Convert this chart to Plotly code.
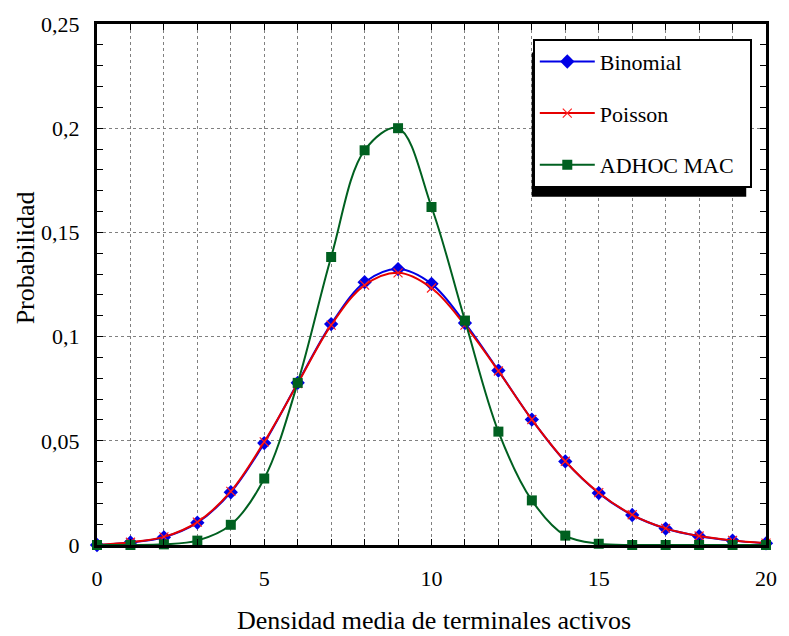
import plotly.graph_objects as go

x_vals = list(range(0, 21))
binomial = [0.0, 0.0012, 0.0037, 0.0107, 0.0253, 0.0489, 0.0778, 0.1060, 0.1261, 0.1324,
            0.1253, 0.1065, 0.0837, 0.0602, 0.0401, 0.0249, 0.0144, 0.0079, 0.0042, 0.0021, 0.0008]
poisson = [0.0, 0.0013, 0.0039, 0.0110, 0.0257, 0.0495, 0.0775, 0.1055, 0.1247, 0.1306,
           0.1233, 0.1055, 0.0835, 0.0602, 0.0402, 0.0251, 0.0145, 0.0080, 0.0043, 0.0022, 0.0009]
adhoc = [0.0, 0.0, 0.0003, 0.0021, 0.0097, 0.0319, 0.0778, 0.1382, 0.1894, 0.2000,
         0.1622, 0.1077, 0.0544, 0.0214, 0.0045, 0.0006, 0.0, 0.0, 0.0, 0.0, 0.0]

x_ticks = [0, 5, 10, 15, 20]
y_ticks = [0, 0.05, 0.1, 0.15, 0.2, 0.25]

FONT = "Liberation Serif, Times New Roman, serif"
GRID = "#808080"

# plot area in pixels (for legend/shadow placement)
L, R, T, B = 97, 774, 14, 545
W, H = R - L, B - T
def px(xp): return (xp - L) / W
def py(yp): return (B - yp) / H

fig = go.Figure()
fig.add_trace(go.Scatter(
    x=x_vals, y=binomial, name="Binomial", mode="lines+markers",
    line=dict(color="#0000e6", width=2, shape="spline", smoothing=1.0),
    marker=dict(symbol="diamond", size=11, color="#0000e6"),
    cliponaxis=False, legendgroup="a"))
fig.add_trace(go.Scatter(
    x=x_vals, y=poisson, name="Poisson", mode="lines+markers",
    line=dict(color="#e60000", width=2, shape="spline", smoothing=1.0),
    marker=dict(symbol="x-thin", size=9, color="#ff2020", line=dict(width=1.2, color="#ff2020")),
    cliponaxis=False, legendgroup="b"))
fig.add_trace(go.Scatter(
    x=x_vals, y=adhoc, name="ADHOC MAC\u00a0\u00a0", mode="lines+markers",
    line=dict(color="#006020", width=2, shape="spline", smoothing=1.0),
    marker=dict(symbol="square", size=10, color="#006020"),
    cliponaxis=False, legendgroup="c"))

fig.update_layout(
    width=789, height=636,
    margin=dict(l=L, r=789 - R, t=T, b=636 - B),
    paper_bgcolor="white", plot_bgcolor="white",
    separators=",.",
    font=dict(family=FONT, size=22, color="black"),
    showlegend=True,
    legend=dict(
        x=px(538), y=py(38) + 0.017, xanchor="left", yanchor="top",
        bgcolor="white", bordercolor="black", borderwidth=2,
        font=dict(family=FONT, size=22, color="black"),
        tracegroupgap=20, traceorder="grouped", itemwidth=55,
    ),
    xaxis=dict(
        range=[0, 20], tickmode="array", tickvals=x_ticks,
        showline=True, linewidth=3, linecolor="black", mirror="allticks",
        ticks="inside", ticklen=6, tickwidth=1, tickcolor="black",
        showgrid=True, gridcolor=GRID, gridwidth=1, griddash="3px,3px",
        zeroline=False, ticklabelstandoff=12,
        tickfont=dict(family=FONT, size=22, color="black"),
        minor=dict(dtick=1, tick0=0, ticks="inside", ticklen=6, tickcolor="black",
                   showgrid=True, gridcolor=GRID, gridwidth=1, griddash="3px,3px"),
    ),
    yaxis=dict(
        range=[0, 0.25], tickmode="array", tickvals=y_ticks,
        showline=True, linewidth=3, linecolor="black", mirror="allticks",
        ticks="inside", ticklen=6, tickwidth=1, tickcolor="black",
        showgrid=True, gridcolor=GRID, gridwidth=1, griddash="3px,3px",
        zeroline=False, ticklabelstandoff=10,
        tickfont=dict(family=FONT, size=22, color="black"),
        minor=dict(dtick=0.01, tick0=0, ticks="inside", ticklen=6, tickcolor="black",
                   showgrid=False),
    ),
    shapes=[
        dict(type="rect", xref="paper", yref="paper", layer="above",
             x0=px(537), x1=px(754), y0=py(190), y1=py(43),
             fillcolor="black", line=dict(width=0)),
    ],
    annotations=[
        dict(text="Probabilidad", xref="paper", yref="paper", x=px(25), y=py(252),
             xanchor="center", yanchor="middle", textangle=-90, showarrow=False,
             font=dict(family=FONT, size=26, color="black")),
        dict(text="Densidad media de terminales activos", xref="paper", yref="paper",
             x=px(438), y=py(622), xanchor="center", yanchor="middle", showarrow=False,
             font=dict(family=FONT, size=26, color="black")),
    ],
)

fig.write_html("out.html")
